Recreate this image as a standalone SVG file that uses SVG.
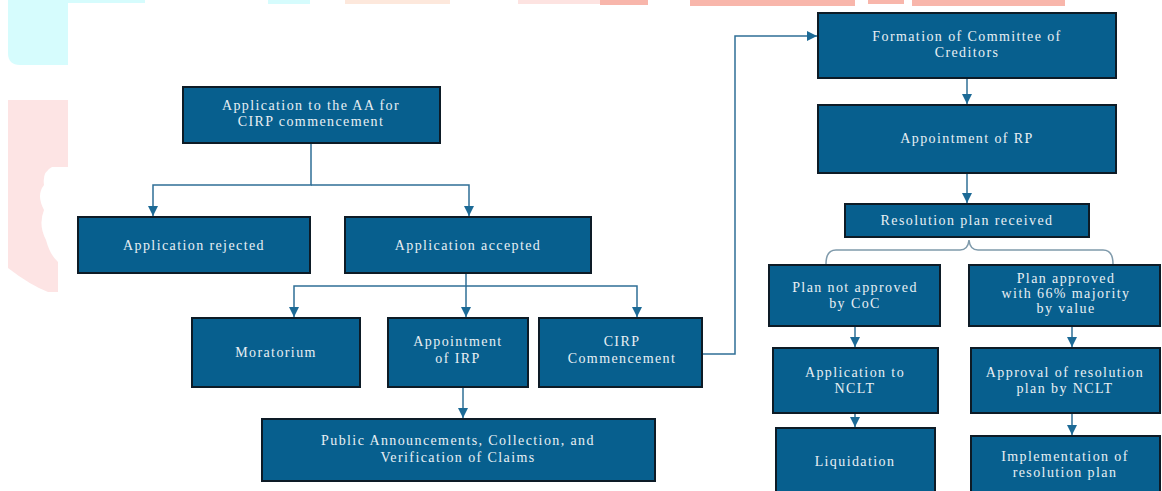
<svg xmlns="http://www.w3.org/2000/svg" width="1162" height="491" viewBox="0 0 1162 491">
  <style>
    .box { fill: #075f8e; stroke: #0d1b26; stroke-width: 2; }
    .t { font-family: "Liberation Serif", "Times New Roman", serif; font-size: 14px; letter-spacing: 1.4px; fill: #e8eff4; text-anchor: middle; }
    .c { stroke: #2f6f96; stroke-width: 1.5; fill: none; }
    .brace { stroke: #7f9aab; stroke-width: 1.5; fill: none; }
  </style>
  <defs>
    <marker id="arr" markerUnits="userSpaceOnUse" markerWidth="10" markerHeight="10" viewBox="0 0 10 10" refX="10" refY="5" orient="auto">
      <path d="M0,0 L10,5 L0,10 z" fill="#1c6a96"/>
    </marker>
  </defs>
  <rect width="1162" height="491" fill="#ffffff"/>
  <!-- background watermark fragments -->
  <g id="watermark">
    <path d="M8,0 H68 V65 H20 Q8,65 8,53 z" fill="#d6fcfd"/>
    <rect x="50" y="0" width="95" height="3" fill="#d6fcfd"/>
    <rect x="268" y="0" width="42" height="4" fill="#d6fcfd"/>
    <rect x="345" y="0" width="105" height="4" fill="#fde8dc"/>
    <rect x="518" y="0" width="82" height="4" fill="#fde3e1"/>
    <rect x="600" y="0" width="48" height="5" fill="#f8b6ab"/>
    <rect x="690" y="0" width="165" height="6" fill="#f8b6ab"/>
    <rect x="868" y="0" width="36" height="4" fill="#f8b6ab"/>
    <rect x="912" y="0" width="153" height="6" fill="#f8b6ab"/>
    <path d="M8,100 H68 V167 H52 Q42,172 44,185 Q36,195 44,210 Q38,225 46,240 Q50,255 58,262 V292 H48 Q30,285 8,268 z" fill="#fde4e4"/>
  </g>
  <g id="connectors">
    <path class="c" d="M311,143 V185 H153 V216" marker-end="url(#arr)"/>
    <path class="c" d="M311,185 H469 V216" marker-end="url(#arr)"/>
    <path class="c" d="M466,273 V286 H294 V317" marker-end="url(#arr)"/>
    <path class="c" d="M466,286 V317" marker-end="url(#arr)"/>
    <path class="c" d="M466,286 H637 V317" marker-end="url(#arr)"/>
    <path class="c" d="M463,387 V418" marker-end="url(#arr)"/>
    <path class="c" d="M702,354 H735 V36 H817" marker-end="url(#arr)"/>
    <path class="c" d="M967,78 V104" marker-end="url(#arr)"/>
    <path class="c" d="M967,173 V203" marker-end="url(#arr)"/>
    <path class="brace" d="M826,264 Q826,250 836,250 H960 Q968,250 969,240 Q970,250 978,250 H1103 Q1113,250 1113,264"/>
    <path class="c" d="M855,326 V347" marker-end="url(#arr)"/>
    <path class="c" d="M1072,326 V347" marker-end="url(#arr)"/>
    <path class="c" d="M855,413 V427" marker-end="url(#arr)"/>
    <path class="c" d="M1072,413 V435" marker-end="url(#arr)"/>
  </g>
  <g id="n1">
    <rect class="box" x="183" y="87" width="257" height="56"/>
    <text class="t" x="311" y="110">Application to the AA for</text>
    <text class="t" x="311" y="126">CIRP commencement</text>
  </g>
  <g id="n2">
    <rect class="box" x="78" y="217" width="232" height="56"/>
    <text class="t" x="194" y="250">Application rejected</text>
  </g>
  <g id="n3">
    <rect class="box" x="345" y="217" width="246" height="56"/>
    <text class="t" x="468" y="250">Application accepted</text>
  </g>
  <g id="n4">
    <rect class="box" x="192" y="318" width="168" height="69"/>
    <text class="t" x="276" y="357">Moratorium</text>
  </g>
  <g id="n5">
    <rect class="box" x="388" y="318" width="140" height="69"/>
    <text class="t" x="458" y="346">Appointment</text>
    <text class="t" x="458" y="363">of IRP</text>
  </g>
  <g id="n6">
    <rect class="box" x="539" y="318" width="163" height="69"/>
    <text class="t" x="622" y="346">CIRP</text>
    <text class="t" x="622" y="363">Commencement</text>
  </g>
  <g id="n7">
    <rect class="box" x="262" y="419" width="393" height="62"/>
    <text class="t" x="458" y="445">Public Announcements, Collection, and</text>
    <text class="t" x="458" y="462">Verification of Claims</text>
  </g>
  <g id="n8">
    <rect class="box" x="818" y="13" width="298" height="65"/>
    <text class="t" x="967" y="41">Formation of Committee of</text>
    <text class="t" x="967" y="57">Creditors</text>
  </g>
  <g id="n9">
    <rect class="box" x="818" y="105" width="298" height="68"/>
    <text class="t" x="967" y="143">Appointment of RP</text>
  </g>
  <g id="n10">
    <rect class="box" x="845" y="204" width="244" height="33"/>
    <text class="t" x="967" y="225">Resolution plan received</text>
  </g>
  <g id="n11">
    <rect class="box" x="769" y="265" width="171" height="61"/>
    <text class="t" x="855" y="292">Plan not approved</text>
    <text class="t" x="855" y="308">by CoC</text>
  </g>
  <g id="n12">
    <rect class="box" x="969" y="265" width="191" height="61"/>
    <text class="t" x="1066" y="283">Plan approved</text>
    <text class="t" x="1066" y="298">with 66% majority</text>
    <text class="t" x="1066" y="313">by value</text>
  </g>
  <g id="n13">
    <rect class="box" x="773" y="348" width="165" height="65"/>
    <text class="t" x="855" y="377">Application to</text>
    <text class="t" x="855" y="393">NCLT</text>
  </g>
  <g id="n14">
    <rect class="box" x="971" y="348" width="189" height="65"/>
    <text class="t" x="1065" y="377">Approval of resolution</text>
    <text class="t" x="1065" y="393">plan by NCLT</text>
  </g>
  <g id="n15">
    <rect class="box" x="776" y="428" width="159" height="70"/>
    <text class="t" x="855" y="466">Liquidation</text>
  </g>
  <g id="n16">
    <rect class="box" x="971" y="436" width="189" height="62"/>
    <text class="t" x="1065" y="461">Implementation of</text>
    <text class="t" x="1065" y="477">resolution plan</text>
  </g>
</svg>
